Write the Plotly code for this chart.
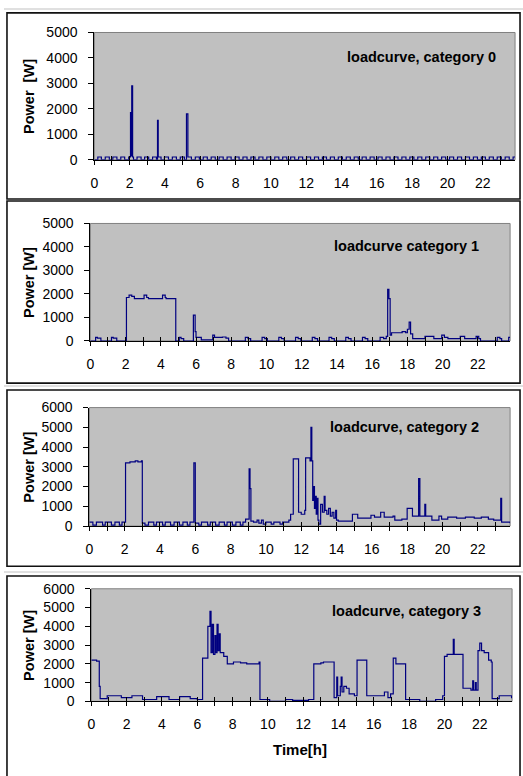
import plotly.graph_objects as go

# ---------------- data (hours, watts) : step curves ----------------
hours0 = [0, 0.2, 0.4, 0.62, 0.85, 1.05, 1.28, 1.5, 1.72, 1.95, 2.05, 2.09, 2.12, 2.17, 2.22, 2.42, 2.65, 2.85,
          3.08, 3.3, 3.52, 3.58, 3.62, 3.78, 3.97, 4.2, 4.42, 4.65, 4.87, 5.1, 5.22, 5.3, 5.5, 5.72, 5.95, 6.17,
          6.4, 6.62, 6.85, 7.07, 7.3, 7.52, 7.75, 7.97, 8.2, 8.42, 8.65, 8.87, 9.1, 9.32, 9.55, 9.77, 10.0, 10.22,
          10.45, 10.67, 10.9, 11.12, 11.35, 11.57, 11.8, 12.02, 12.25, 12.47, 12.7, 12.92, 13.15, 13.37, 13.6,
          13.82, 14.05, 14.27, 14.5, 14.72, 14.95, 15.17, 15.4, 15.62, 15.85, 16.07, 16.3, 16.52, 16.75, 16.97,
          17.2, 17.42, 17.65, 17.87, 18.1, 18.32, 18.55, 18.77, 19.0, 19.22, 19.45, 19.67, 19.9, 20.12, 20.35,
          20.57, 20.8, 21.02, 21.25, 21.47, 21.7, 21.92, 22.15, 22.37, 22.6, 22.82, 23.05, 23.27, 23.5, 23.72, 23.83]
watts0 = [0, 110, 0, 110, 0, 110, 0, 110, 0, 110, 1850, 150, 2900, 110, 0, 110, 0, 110,
          0, 110, 0, 1550, 110, 0, 110, 0, 110, 0, 110, 0, 1800, 110, 0, 110, 0, 110,
          0, 110, 0, 110, 0, 110, 0, 110, 0, 110, 0, 110, 0, 110, 0, 110, 0, 110,
          0, 110, 0, 110, 0, 110, 0, 110, 0, 110, 0, 110, 0, 110, 0,
          110, 0, 110, 0, 110, 0, 110, 0, 110, 0, 110, 0, 110, 0, 110,
          0, 110, 0, 110, 0, 110, 0, 110, 0, 110, 0, 110, 0, 110, 0,
          110, 0, 110, 0, 110, 0, 110, 0, 110, 0, 110, 0, 110, 0, 110, 110]

hours1 = [0, 0.3, 0.4, 0.6, 1.2, 1.3, 1.5, 2.05, 2.2, 2.35, 2.5, 3.05, 3.2, 3.3, 4.1, 4.25, 4.3, 4.85, 5.05,
          5.15, 5.3, 5.85, 5.95, 6.0, 6.3, 6.95, 7.05, 7.5, 7.7, 7.85, 8.8, 8.95, 9.1, 9.75, 9.9, 10.05, 10.7,
          10.85, 11.0, 11.65, 11.8, 11.95, 12.6, 12.75, 12.9, 13.55, 13.7, 13.85, 14.5, 14.65, 14.8, 15.45,
          15.6, 15.75, 16.45, 16.65, 16.8, 16.88, 16.95, 17.02, 17.1, 17.7, 17.9, 18.0, 18.1, 18.18, 18.3,
          19.0, 19.5, 19.95, 20.1, 20.3, 21.0, 21.25, 21.9, 22.05, 22.15, 23.1, 23.25, 23.35, 23.75, 23.83]
watts1 = [0, 150, 120, 0, 150, 120, 0, 1850, 1950, 1900, 1800, 1950, 1850, 1800, 1950, 1850, 1800, 0, 150,
          100, 0, 1100, 400, 150, 50, 250, 150, 170, 120, 0, 150, 100, 0, 150, 100, 0, 150,
          100, 0, 150, 100, 0, 150, 100, 0, 150, 100, 0, 150, 100, 0, 150,
          100, 0, 150, 100, 200, 2200, 1800, 250, 350, 400, 350, 500, 800, 300, 100,
          200, 100, 250, 150, 100, 200, 100, 200, 100, 0, 150, 100, 0, 150, 150]

hours2 = [0, 0.2, 0.4, 0.75, 0.9, 1.25, 1.45, 1.7, 1.85, 2.05, 2.3, 2.6, 2.75, 2.95, 3.0, 3.15, 3.35, 3.65,
          3.8, 4.15, 4.3, 4.6, 4.8, 5.1, 5.3, 5.55, 5.7, 5.92, 6.0, 6.2, 6.35, 6.7, 6.85, 7.15, 7.35, 7.65,
          7.8, 8.1, 8.3, 8.55, 8.7, 8.85, 9.05, 9.1, 9.15, 9.3, 9.5, 9.6, 9.75, 9.85, 10.0, 10.3, 10.45,
          10.8, 10.95, 11.3, 11.4, 11.55, 11.85, 12.0, 12.2, 12.25, 12.5, 12.55, 12.6, 12.65, 12.7, 12.75,
          12.8, 12.85, 12.9, 12.95, 13.0, 13.1, 13.2, 13.3, 13.35, 13.45, 13.55, 13.65, 13.75, 13.85,
          13.95, 14.0, 14.1, 14.9, 15.2, 15.95, 16.15, 16.5, 16.7, 17.2, 17.3, 17.7, 18.0, 18.3, 18.65,
          18.72, 19.0, 19.05, 19.4, 19.8, 19.95, 20.3, 20.8, 21.3, 21.8, 22.2, 22.6, 22.9, 23.3, 23.35, 23.83]
watts2 = [200, 50, 200, 50, 200, 50, 200, 50, 200, 3200, 3250, 3300, 3250, 3300, 150, 50, 200, 50,
          200, 50, 200, 50, 200, 50, 200, 50, 200, 3200, 150, 50, 200, 50, 200, 50, 200, 50,
          200, 50, 200, 50, 200, 350, 2900, 1900, 250, 200, 300, 150, 300, 100, 200, 100, 200,
          100, 200, 300, 600, 3400, 700, 600, 800, 3450, 3300, 5000, 3300, 1300, 2000, 900,
          1500, 600, 1400, 300, 100, 1100, 700, 1500, 800, 600, 900, 500, 700, 400,
          800, 300, 250, 600, 400, 550, 450, 700, 450, 500, 300, 350, 900, 500, 2400,
          500, 1100, 500, 300, 500, 350, 450, 400, 450, 400, 450, 350, 300, 1400, 200, 150]

hours3 = [0, 0.3, 0.45, 0.5, 0.9, 1.7, 2.3, 2.9, 3.7, 4.4, 5.0, 5.6, 6.0, 6.3, 6.6, 6.72, 6.78, 6.85, 6.92,
          7.0, 7.05, 7.12, 7.18, 7.25, 7.3, 7.5, 7.7, 8.05, 8.45, 8.8, 9.5, 9.55, 10.1, 11.0, 11.4, 12.3,
          12.6, 13.0, 13.15, 13.3, 13.75, 13.9, 13.95, 14.1, 14.15, 14.2, 14.3, 14.45, 14.6, 14.9, 15.05,
          15.6, 16.3, 16.6, 16.8, 16.95, 17.1, 17.25, 17.8, 18.3, 18.6, 19.5, 19.9, 20.0, 20.15, 20.45,
          20.5, 20.55, 21.05, 21.5, 21.6, 21.65, 21.75, 21.8, 21.9, 22.0, 22.1, 22.25, 22.5, 22.65, 22.7,
          23.1, 23.8, 23.83]
watts3 = [2200, 2150, 800, 150, 300, 200, 300, 100, 250, 100, 250, 150, 100, 2300, 4000, 4800, 2600, 4100, 2500,
          3500, 2600, 4100, 2700, 3600, 2600, 2400, 2000, 2100, 2050, 2000, 2100, 100, 0, 100, 50, 100,
          2000, 2050, 2100, 2100, 200, 1300, 300, 800, 1300, 500, 800, 700, 400, 300, 2200,
          300, 300, 500, 200, 400, 2300, 2000, 100, 100, 0, 100, 300, 2400, 2500, 2500,
          3300, 2500, 700, 600, 1100, 600, 1000, 600, 2700, 3100, 2700, 2600, 2200, 2100, 150,
          300, 200, 200]

titles = ["loadcurve, category 0", "loadcurve category 1", "loadcurve, category 2", "loadcurve, category 3"]
y_titles = ["Power  [W]", "Power [W]", "Power [W]", "Power [W]"]
y_max = [5000, 5000, 6000, 6000]
hour_ticks = list(range(0, 24))
hour_labels = [str(h) if h % 2 == 0 else "" for h in hour_ticks]
x_title = "Time[h]"

series = [(hours0, watts0), (hours1, watts1), (hours2, watts2), (hours3, watts3)]

# ---------------- layout (pixel geometry) ----------------
W, H = 523, 776
def fx(p): return p / W
def fy(p): return 1 - p / H

# plot areas: (left, top, right, bottom)
areas = [(91, 25, 515, 155), (87, 220, 510, 340), (86, 408, 510, 529), (88, 593, 512, 708)]
frames = [(3, 5, 520, 195), (3, 197, 520, 383), (3, 390, 520, 570), (3, 580, 520, 790)]
title_pos = [(498, 50), (481, 243), (481, 428), (483, 616)]
font = "Liberation Sans, Arial, sans-serif"
NAVY = "#000080"
TICK_SIZE = 14

fig = go.Figure()
layout = dict(width=W, height=H, margin=dict(l=0, r=0, t=0, b=0), autosize=False,
              paper_bgcolor="white", plot_bgcolor="#C0C0C0", showlegend=False,
              font=dict(family=font, size=TICK_SIZE, color="black"))
shapes, annotations = [], []

for i, ((hx, wy), (l, t, r, b)) in enumerate(zip(series, areas)):
    xa = "x" if i == 0 else f"x{i+1}"
    ya = "y" if i == 0 else f"y{i+1}"
    xk = "xaxis" if i == 0 else f"xaxis{i+1}"
    yk = "yaxis" if i == 0 else f"yaxis{i+1}"
    fig.add_trace(go.Scatter(x=hx, y=wy, mode="lines", line=dict(color=NAVY, width=1.2, shape="hv"),
                             xaxis=xa, yaxis=ya, hoverinfo="skip"))
    layout[xk] = dict(domain=[fx(l), fx(r)], anchor=ya, range=[0, 23.83], tickmode="array",
                      tickvals=hour_ticks, ticktext=hour_labels, ticks="outside", ticklen=4,
                      tickcolor="black", tickwidth=1, showline=True, linecolor="black", linewidth=1,
                      showgrid=False, zeroline=False, ticklabelstandoff=6,
                      tickfont=dict(family=font, size=TICK_SIZE))
    layout[yk] = dict(domain=[fy(b), fy(t)], anchor=xa, range=[0, y_max[i]], dtick=1000, tick0=0,
                      ticks="outside", ticklen=5, tickcolor="black", tickwidth=1, showline=True,
                      linecolor="black", linewidth=1, showgrid=False, zeroline=False,
                      ticklabelstandoff=8, tickfont=dict(family=font, size=TICK_SIZE))
    # overlay axis for crossing tick marks
    ok = f"xaxis{i+5}"
    fig.add_trace(go.Scatter(x=[None], y=[None], xaxis=f"x{i+5}", yaxis=ya, hoverinfo="skip"))
    layout[ok] = dict(overlaying=xa, anchor=ya, range=[0, 23.83], tickmode="array", tickvals=hour_ticks,
                      ticks="inside", ticklen=4, tickcolor="black", tickwidth=1, showticklabels=False,
                      showline=False, showgrid=False, zeroline=False)
    # gray plot border (top/right)
    shapes.append(dict(type="rect", xref=f"{xa} domain", yref=f"{ya} domain", x0=0, x1=1, y0=0, y1=1,
                       line=dict(color="#808080", width=1), layer="below"))
    # panel frame
    fl, ft, fr, fb = frames[i]
    shapes.append(dict(type="rect", xref="paper", yref="paper", x0=fx(fl), x1=fx(fr), y0=fy(fb), y1=fy(ft),
                       line=dict(color="#111111", width=1.6)))
    tx, ty = title_pos[i]
    annotations.append(dict(text=f"<b>{titles[i]}</b>", xref="paper", yref="paper", x=fx(tx), y=fy(ty),
                            xanchor="right", yanchor="middle", showarrow=False,
                            font=dict(family=font, size=14.5, color="black")))
    annotations.append(dict(text=f"<b>{y_titles[i]}</b>", xref="paper", yref="paper", x=fx(25),
                            y=fy((t + b) / 2), xanchor="center", yanchor="middle", textangle=-90,
                            showarrow=False, font=dict(family=font, size=14.5, color="black")))

# light page separators
for sy in (1, 386, 576):
    shapes.append(dict(type="line", xref="paper", yref="paper", x0=0, x1=1, y0=fy(sy), y1=fy(sy),
                       line=dict(color="#e0e0e0", width=2)))

annotations.append(dict(text=f"<b>{x_title}</b>", xref="paper", yref="paper", x=fx(298), y=fy(757),
                        xanchor="center", yanchor="middle", showarrow=False,
                        font=dict(family=font, size=15, color="black")))

layout["shapes"] = shapes
layout["annotations"] = annotations
fig.update_layout(**layout)
fig.write_html("out.html")
